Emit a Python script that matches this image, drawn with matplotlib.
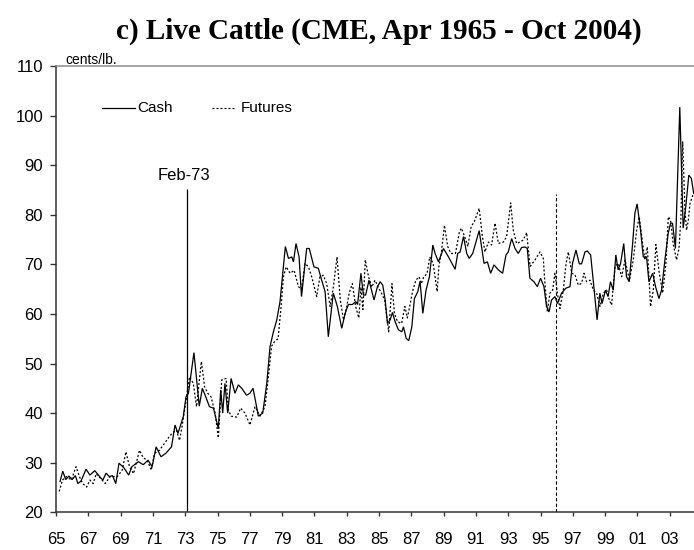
import matplotlib
matplotlib.use("Agg")
import matplotlib.pyplot as plt
from matplotlib.lines import Line2D

# ---------------- data ----------------
cash_years = [1965.25, 1965.42, 1965.6, 1965.8, 1966.0, 1966.2, 1966.35, 1966.55, 1966.86,
              1967.1, 1967.4, 1967.7, 1967.9, 1968.1, 1968.3, 1968.5, 1968.7, 1968.9,
              1969.2, 1969.5, 1969.7, 1970.1, 1970.4, 1970.7, 1970.95, 1971.2, 1971.5,
              1971.8, 1972.15, 1972.37, 1972.55, 1972.88, 1973.05, 1973.2, 1973.54,
              1973.87, 1974.06, 1974.27, 1974.5, 1974.75, 1975.05, 1975.2, 1975.32,
              1975.46, 1975.63, 1975.84, 1976.08, 1976.29, 1976.5, 1976.8, 1977.0,
              1977.2, 1977.53, 1977.8, 1978.05, 1978.25, 1978.46, 1978.67, 1978.87,
              1979.2, 1979.39, 1979.6, 1979.7, 1979.86, 1980.05, 1980.2, 1980.52,
              1980.68, 1980.97, 1981.24, 1981.45, 1981.66, 1981.86, 1982.17, 1982.42,
              1982.69, 1982.9, 1983.1, 1983.35, 1983.56, 1983.67, 1983.88, 1984.03,
              1984.17, 1984.38, 1984.69, 1984.9, 1985.07, 1985.23, 1985.38, 1985.52,
              1985.69, 1985.83, 1986.0, 1986.2, 1986.41, 1986.51, 1986.68, 1986.84,
              1987.03, 1987.19, 1987.4, 1987.54, 1987.71, 1987.91, 1988.12, 1988.33,
              1988.47, 1988.68, 1988.99, 1989.3, 1989.71, 1989.87, 1990.02, 1990.23,
              1990.43, 1990.58, 1990.8, 1991.2, 1991.5, 1991.71, 1991.91, 1992.12,
              1992.38, 1992.65, 1992.86, 1993.0, 1993.21, 1993.42, 1993.62, 1993.83,
              1994.03, 1994.18, 1994.34, 1994.59, 1994.8, 1995.0, 1995.21, 1995.37,
              1995.52, 1995.68, 1995.89, 1996.05, 1996.3, 1996.57, 1996.82, 1996.98,
              1997.19, 1997.4, 1997.54, 1997.75, 1997.89, 1998.1, 1998.3, 1998.5,
              1998.67, 1998.81, 1999.02, 1999.18, 1999.33, 1999.5, 1999.66, 1999.8,
              1999.95, 2000.15, 2000.32, 2000.49, 2000.7, 2000.84, 2000.98, 2001.19,
              2001.36, 2001.56, 2001.71, 2001.94, 2002.12, 2002.33, 2002.49, 2002.7,
              2002.9, 2003.05, 2003.17, 2003.35, 2003.62, 2003.83, 2003.99, 2004.18,
              2004.34, 2004.48]
cash_values = [26.2, 28.3, 26.6, 27.3, 26.6, 27.4, 25.8, 26.3, 28.7,
               27.5, 28.4, 27.2, 26.5, 27.9, 27.2, 27.4, 25.8, 29.9,
               29.0, 27.5, 29.2, 30.2, 29.6, 30.5, 29.2, 33.2, 31.2,
               31.9, 33.2, 37.6, 35.9, 39.3, 43.3, 44.0, 52.2,
               41.4, 45.0, 43.3, 41.3, 41.0, 36.9, 44.7, 40.0,
               46.0, 40.0, 47.0, 44.0, 45.7, 45.0, 43.6, 44.0,
               45.0, 39.4, 40.0, 46.0, 53.4, 56.4, 58.8, 62.5,
               73.6, 71.2, 71.5, 70.5, 74.2, 71.5, 63.5, 73.2,
               73.2, 69.5, 69.2, 66.8, 64.5, 55.4, 64.2, 61.5,
               57.1, 60.1, 61.9, 61.9, 62.5, 61.9, 68.2, 63.8,
               63.8, 66.8, 62.8, 65.5, 66.5, 65.8, 62.8, 58.1,
               58.8, 60.3, 58.4, 56.8, 56.4, 57.4, 55.1, 54.6,
               57.4, 63.1, 64.5, 66.6, 60.1, 64.8, 67.5, 73.9,
               72.2, 70.5, 73.2, 71.5, 69.0, 72.2, 72.5, 75.6,
               72.2, 71.2, 72.2, 76.8, 70.2, 70.5, 68.2, 69.9,
               68.9, 68.2, 71.9, 72.5, 75.2, 73.2, 72.2, 73.4,
               73.5, 73.2, 67.2, 66.5, 65.5, 67.2, 65.5, 61.5,
               60.4, 62.8, 63.5, 62.1, 64.2, 65.2, 65.5, 70.2,
               72.9, 70.1, 70.1, 72.5, 72.7, 71.9, 65.5, 58.8,
               64.2, 62.1, 64.8, 63.5, 66.5, 64.8, 71.9, 68.9,
               70.1, 74.2, 67.5, 66.5, 74.2, 80.3, 82.2, 76.9,
               71.5, 71.5, 66.5, 68.2, 65.5, 63.1, 64.8, 70.9,
               76.2, 78.3, 78.3, 73.2, 101.7, 77.3, 81.6, 88.0,
               87.3, 84.3]

futures_years = [1965.2, 1965.4, 1965.65, 1965.95, 1966.24, 1966.45, 1966.65, 1966.9,
                 1967.1, 1967.3, 1967.5, 1967.85, 1968.05, 1968.35, 1968.6, 1968.8,
                 1969.1, 1969.33, 1969.55, 1969.8, 1970.17, 1970.4, 1970.65, 1970.9,
                 1971.1, 1971.4, 1971.72, 1972.0, 1972.2, 1972.45, 1972.65, 1972.8,
                 1973.05, 1973.27, 1973.5, 1973.7, 1974.0, 1974.2, 1974.4, 1974.6,
                 1974.85, 1975.05, 1975.26, 1975.53, 1975.67, 1975.84, 1976.19, 1976.43,
                 1976.7, 1977.01, 1977.32, 1977.63, 1977.94, 1978.15, 1978.35, 1978.55,
                 1978.75, 1978.95, 1979.08, 1979.25, 1979.5, 1979.74, 1980.01, 1980.2,
                 1980.42, 1980.63, 1980.83, 1981.14, 1981.34, 1981.55, 1981.76, 1981.97,
                 1982.17, 1982.4, 1982.6, 1982.8, 1983.0, 1983.15, 1983.35, 1983.55,
                 1983.75, 1983.88, 1984.0, 1984.15, 1984.35, 1984.55, 1984.75, 1984.95,
                 1985.15, 1985.35, 1985.6, 1985.8, 1985.95, 1986.15, 1986.4, 1986.6,
                 1986.75, 1986.9, 1987.07, 1987.28, 1987.48, 1987.62, 1987.77, 1987.97,
                 1988.14, 1988.35, 1988.6, 1988.7, 1988.85, 1989.05, 1989.25, 1989.45,
                 1989.73, 1989.98, 1990.1, 1990.3, 1990.5, 1990.7, 1990.9, 1991.2,
                 1991.4, 1991.56, 1991.77, 1991.97, 1992.18, 1992.39, 1992.7, 1992.9,
                 1993.15, 1993.31, 1993.52, 1993.73, 1993.93, 1994.14, 1994.35, 1994.66,
                 1994.96, 1995.17, 1995.27, 1995.42, 1995.58, 1995.75, 1995.89, 1996.04,
                 1996.2, 1996.41, 1996.58, 1996.72, 1996.93, 1997.13, 1997.34, 1997.54,
                 1997.69, 1997.85, 1998.06, 1998.27, 1998.47, 1998.68, 1998.89, 1999.09,
                 1999.26, 1999.4, 1999.61, 1999.81, 2000.02, 2000.23, 2000.5, 2000.74,
                 2000.95, 2001.11, 2001.32, 2001.46, 2001.61, 2001.81, 2001.98, 2002.14,
                 2002.35, 2002.56, 2002.76, 2002.91, 2003.05, 2003.22, 2003.42, 2003.57,
                 2003.69, 2003.8, 2003.94, 2004.04, 2004.15, 2004.25, 2004.46]
futures_values = [24.2, 26.5, 27.2, 26.5, 29.2, 27.2, 25.8, 25.1,
                  26.5, 25.8, 27.8, 26.5, 25.8, 27.2, 27.2, 27.2,
                  28.5, 32.2, 29.2, 27.8, 32.5, 31.0, 30.5, 28.5,
                  31.9, 32.5, 33.9, 35.2, 36.0, 36.6, 34.5, 37.2,
                  42.6, 47.3, 46.0, 41.3, 50.4, 45.3, 44.0, 43.3,
                  40.0, 35.0, 46.7, 47.0, 40.7, 39.4, 39.2, 41.0,
                  40.0, 37.6, 41.3, 39.4, 41.3, 47.4, 53.5, 54.5,
                  55.0, 62.0, 67.5, 69.5, 68.2, 68.8, 65.5, 65.0,
                  70.2, 69.5, 67.5, 63.5, 67.5, 67.8, 66.1, 61.5,
                  65.4, 71.5, 62.8, 58.8, 61.5, 64.2, 66.1, 61.5,
                  59.2, 65.4, 60.9, 70.9, 67.5, 65.4, 66.8, 65.4,
                  64.2, 62.8, 56.4, 66.1, 60.1, 58.4, 58.1, 61.5,
                  59.2, 61.5, 64.5, 66.8, 67.5, 66.1, 67.5, 68.1,
                  71.5, 70.2, 64.5, 69.5, 72.2, 77.9, 73.6, 72.2,
                  72.2, 76.6, 77.3, 75.6, 73.6, 77.6, 78.6, 81.3,
                  75.6, 72.5, 74.5, 73.9, 78.3, 74.2, 74.5, 75.6,
                  82.4, 76.9, 74.2, 74.5, 74.9, 76.4, 69.6, 70.9,
                  72.5, 71.2, 66.2, 60.5, 64.2, 64.8, 68.2, 64.2,
                  61.1, 64.8, 70.2, 72.5, 68.2, 67.9, 65.8, 66.2,
                  68.2, 66.5, 66.8, 64.8, 64.2, 61.5, 64.2, 64.8,
                  62.8, 61.8, 69.6, 70.2, 67.5, 70.9, 66.8, 70.9,
                  76.9, 79.6, 74.2, 70.9, 73.5, 61.5, 64.8, 74.0,
                  68.2, 64.2, 70.2, 79.6, 78.9, 73.9, 70.9, 73.2,
                  79.3, 94.7, 80.9, 76.9, 78.9, 82.2, 84.3]

event_years = [1973.13, 1995.94]
event_tops = [85.2, 84.1]
event_label = "Feb-73"

tick_years = list(range(1965, 2004, 2))
tick_labels = ["%02d" % (y % 100) for y in tick_years]
y_ticks = list(range(20, 111, 10))

# ---------------- figure ----------------
fig = plt.figure(figsize=(6.94, 5.5), dpi=100)
ax = fig.add_axes([56 / 694, 1 - 512.3 / 550, 1 - 56 / 694, (512.3 - 66) / 550])

ax.plot(cash_years, cash_values, color="black", lw=0.9, solid_joinstyle="miter")
ax.plot(futures_years, futures_values, color="black", lw=0.9,
        linestyle=(0, (1.6, 1.6)))

ax.vlines(event_years[0], 20, event_tops[0], color="black", lw=0.9)
ax.vlines(event_years[1], 20, event_tops[1], color="black", lw=0.8,
          linestyles=[(0, (3.0, 2.0))])

ax.text(1972.9, 87.0, event_label, ha="center", va="baseline",
        fontsize=12, family="Liberation Sans")
ax.text(1965.56, 110.35, "cents/lb.", ha="left", va="baseline",
        fontsize=10, family="Liberation Sans", clip_on=False)

ax.set_xlim(1965, 2004.5)
ax.set_ylim(20, 110)
ax.set_xticks(tick_years)
ax.set_xticklabels(tick_labels)
ax.set_yticks(y_ticks)

for lab in ax.get_xticklabels() + ax.get_yticklabels():
    lab.set_fontfamily("Liberation Sans")
    lab.set_fontsize(12)

ax.tick_params(axis="x", direction="out", length=3, width=1, pad=11, color="#333333")
ax.tick_params(axis="y", direction="out", length=4.3, width=1, pad=5, color="#333333")

for s in ["left", "bottom"]:
    ax.spines[s].set_color("#333333")
    ax.spines[s].set_linewidth(1.1)
ax.spines["top"].set_color("#8c8c8c")
ax.spines["top"].set_linewidth(1.1)
ax.spines["right"].set_visible(False)

# legend (manual placement in pixel-derived axes fractions)
def fx(px):
    return (px - 56) / 638.0

def fy(py):
    return (512.3 - py) / 446.3

ax.add_line(Line2D([fx(102), fx(135)], [fy(108), fy(108)], transform=ax.transAxes,
                   color="black", lw=0.9))
ax.text(fx(137), fy(108), "Cash", transform=ax.transAxes, va="center", ha="left",
        fontsize=11, family="Liberation Sans")
ax.add_line(Line2D([fx(212), fx(236)], [fy(108), fy(108)], transform=ax.transAxes,
                   color="black", lw=0.9, linestyle=(0, (1.6, 1.6))))
ax.text(fx(241), fy(108), "Futures", transform=ax.transAxes, va="center", ha="left",
        fontsize=11, family="Liberation Sans")

fig.text(379 / 694, 1 - 39 / 550, "c) Live Cattle (CME, Apr 1965 - Oct 2004)",
         ha="center", va="baseline", fontsize=21, fontweight="bold",
         family="Liberation Serif")

fig.savefig("out.png", dpi=100)
